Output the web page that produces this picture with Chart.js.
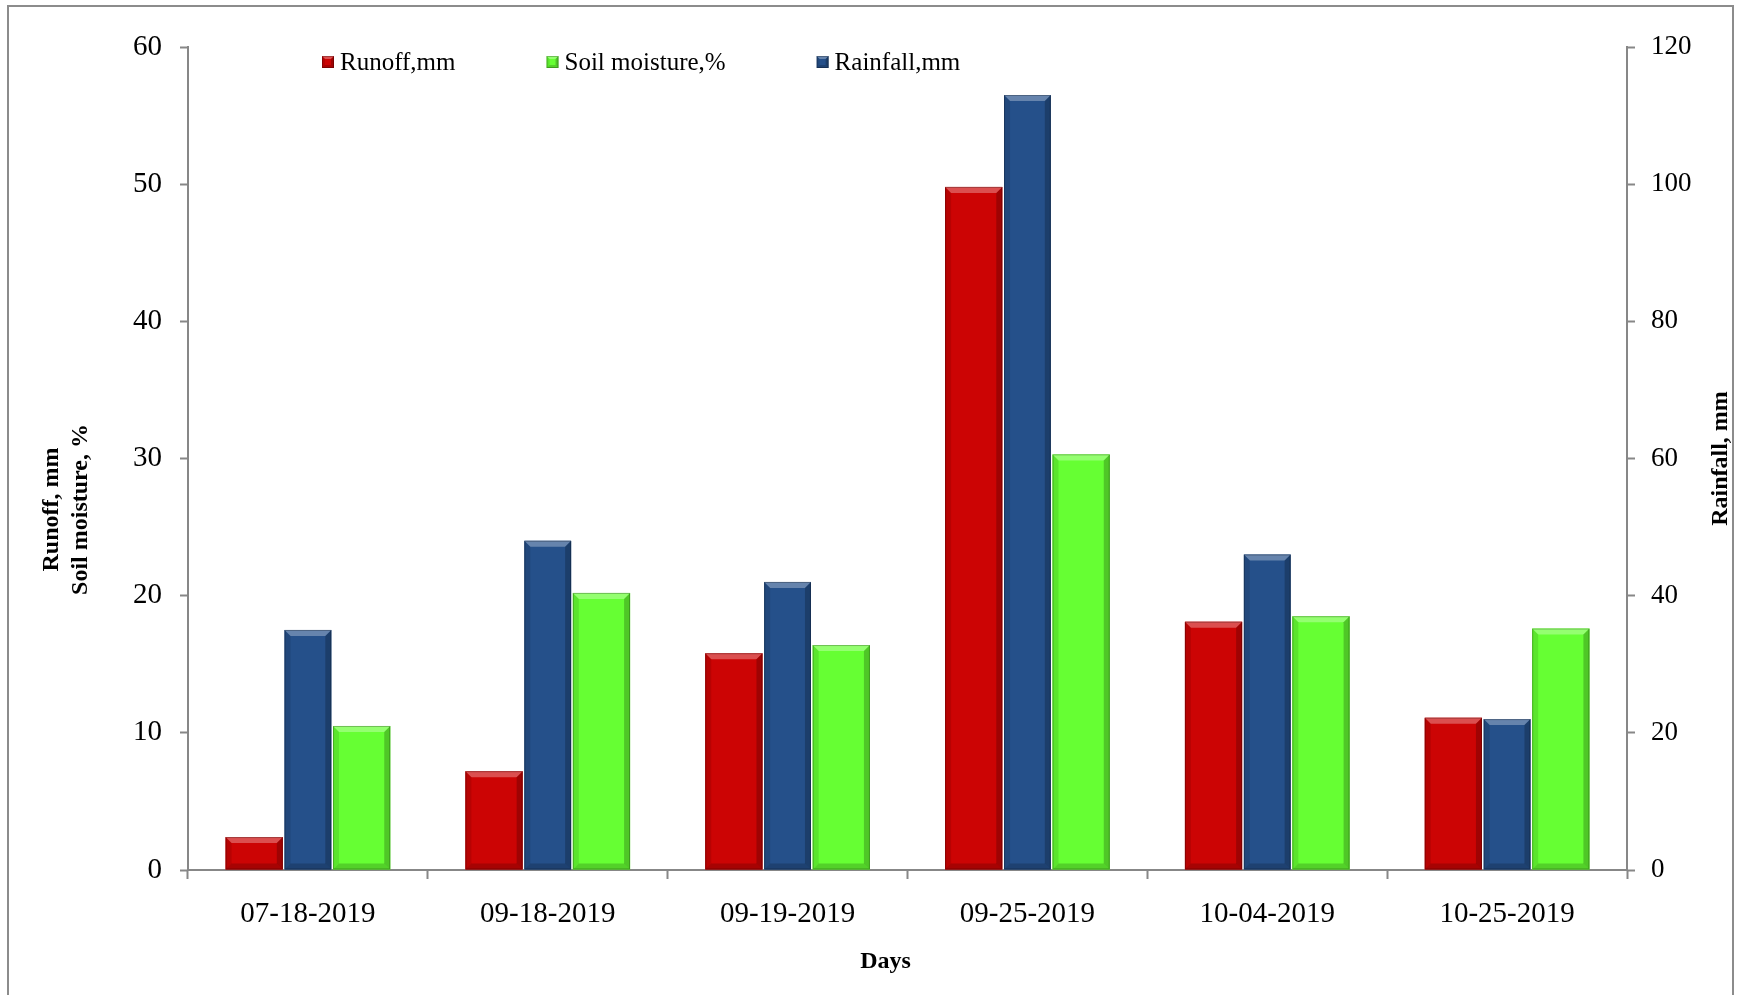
<!DOCTYPE html>
<html>
<head>
<meta charset="utf-8">
<script src="https://cdn.jsdelivr.net/npm/chart.js@4.4.0/dist/chart.umd.min.js"></script>
<style>
  html, body { margin: 0; padding: 0; background: #ffffff; }
  #wrap { width: 1741px; height: 995px; position: relative; }
</style>
</head>
<body>
<div id="wrap"><canvas id="c"></canvas></div>
<script>
const categories = ['07-18-2019', '09-18-2019', '09-19-2019', '09-25-2019', '10-04-2019', '10-25-2019'];
const runoff = [2.4, 7.2, 15.8, 49.8, 18.1, 11.1];
const rainfall = [35, 48, 42, 113, 46, 22];
const soilMoisture = [10.5, 20.2, 16.4, 30.3, 18.5, 17.6];
const leftTicks = [0, 10, 20, 30, 40, 50, 60];
const rightTicks = [0, 20, 40, 60, 80, 100, 120];
const leftTitle = ['Runoff, mm', 'Soil moisture, %'];
const rightTitle = 'Rainfall, mm';
const xTitle = 'Days';

const SERIF = "'Times New Roman', 'Liberation Serif', serif";
const AXIS_GRAY = '#878787';
const COLORS = { runoff: '#CC0404', soil: '#66FF33', rain: '#25508A' };

function bevelRect(ctx, left, top, right, bottom, color, b) {
  ctx.save();
  ctx.fillStyle = color;
  ctx.fillRect(left, top, right - left, bottom - top);
  const h = bottom - top;
  const bb = Math.min(b, h / 2, (right - left) / 2);
  ctx.fillStyle = 'rgba(255,255,255,0.30)';
  ctx.beginPath();
  ctx.moveTo(left, top); ctx.lineTo(right, top); ctx.lineTo(right - bb, top + bb); ctx.lineTo(left + bb, top + bb); ctx.closePath(); ctx.fill();
  ctx.fillStyle = 'rgba(0,0,0,0.22)';
  ctx.beginPath();
  ctx.moveTo(right, top); ctx.lineTo(right, bottom); ctx.lineTo(right - bb, bottom - bb); ctx.lineTo(right - bb, top + bb); ctx.closePath(); ctx.fill();
  ctx.fillStyle = 'rgba(0,0,0,0.10)';
  ctx.beginPath();
  ctx.moveTo(left, top); ctx.lineTo(left + bb, top + bb); ctx.lineTo(left + bb, bottom - bb); ctx.lineTo(left, bottom); ctx.closePath(); ctx.fill();
  ctx.fillStyle = 'rgba(0,0,0,0.18)';
  ctx.beginPath();
  ctx.moveTo(left, bottom); ctx.lineTo(left + bb, bottom - bb); ctx.lineTo(right - bb, bottom - bb); ctx.lineTo(right, bottom); ctx.closePath(); ctx.fill();
  ctx.strokeStyle = 'rgba(0,0,0,0.25)';
  ctx.lineWidth = 1;
  ctx.strokeRect(left + 0.5, top + 0.5, right - left - 1, bottom - top - 1);
  ctx.restore();
}

const framePlugin = {
  id: 'frame',
  beforeDraw(chart) {
    const ctx = chart.ctx;
    ctx.save();
    ctx.fillStyle = '#ffffff';
    ctx.fillRect(0, 0, chart.width, chart.height);
    ctx.strokeStyle = '#8c8c8c';
    ctx.lineWidth = 2;
    ctx.strokeRect(8, 6, chart.width - 16, chart.height + 20);
    ctx.restore();
  }
};

const bevelPlugin = {
  id: 'bevel',
  afterDatasetsDraw(chart) {
    const ctx = chart.ctx;
    chart.data.datasets.forEach((ds, i) => {
      const meta = chart.getDatasetMeta(i);
      meta.data.forEach(el => {
        const p = el.getProps(['x', 'y', 'base', 'width'], true);
        const left = p.x - p.width / 2, right = p.x + p.width / 2;
        bevelRect(ctx, left, Math.min(p.y, p.base), right, Math.max(p.y, p.base), ds.backgroundColor, 6);
      });
    });
  }
};

const legendOrder = [0, 2, 1];
const customLegend = {
  id: 'customLegend',
  afterDraw(chart) {
    const ctx = chart.ctx;
    const area = chart.chartArea;
    ctx.save();
    ctx.font = '25px ' + SERIF;
    ctx.textBaseline = 'middle';
    ctx.textAlign = 'left';
    let x = area.left + 134;
    const y = area.top + 15;
    legendOrder.forEach(i => {
      const ds = chart.data.datasets[i];
      bevelRect(ctx, x, y - 6, x + 12, y + 6, ds.backgroundColor, 3);
      ctx.fillStyle = '#000000';
      ctx.fillText(ds.label, x + 18, y + 1);
      x += 18 + ctx.measureText(ds.label).width + 91;
    });
    // axis titles
    ctx.font = 'bold 24px ' + SERIF;
    ctx.textAlign = 'center';
    const cyLeft = (area.top + area.bottom) / 2 + 51;
    leftTitle.forEach((t, k) => {
      ctx.save();
      ctx.translate(52 + k * 29, cyLeft);
      ctx.rotate(-Math.PI / 2);
      ctx.fillText(t, 0, 0);
      ctx.restore();
    });
    ctx.save();
    ctx.translate(1721, (area.top + area.bottom) / 2);
    ctx.rotate(-Math.PI / 2);
    ctx.fillText(rightTitle, 0, 0);
    ctx.restore();
    ctx.fillText(xTitle, (area.left + area.right) / 2 - 22, area.bottom + 92);
    ctx.restore();
  }
};

new Chart(document.getElementById('c'), {
  type: 'bar',
  data: {
    labels: categories,
    datasets: [
      { label: 'Runoff,mm', data: runoff, yAxisID: 'y', backgroundColor: COLORS.runoff,
        barPercentage: 1.065, categoryPercentage: 0.672, borderWidth: 0 },
      { label: 'Rainfall,mm', data: rainfall, yAxisID: 'y1', backgroundColor: COLORS.rain,
        barPercentage: 0.87, categoryPercentage: 0.672, borderWidth: 0 },
      { label: 'Soil moisture,%', data: soilMoisture, yAxisID: 'y', backgroundColor: COLORS.soil,
        barPercentage: 1.065, categoryPercentage: 0.672, borderWidth: 0 }
    ]
  },
  options: {
    responsive: true,
    maintainAspectRatio: false,
    animation: false,
    devicePixelRatio: 1,
    layout: { padding: { top: 47, left: 0, right: 0, bottom: 0 } },
    plugins: {
      legend: { display: false },
      tooltip: { enabled: false }
    },
    scales: {
      x: {
        type: 'category',
        grid: { display: true, drawOnChartArea: false, offset: true, color: AXIS_GRAY, tickColor: AXIS_GRAY, tickLength: 9, tickWidth: 2 },
        border: { display: true, color: AXIS_GRAY, width: 2 },
        ticks: { color: '#000000', font: { family: SERIF, size: 29 }, padding: 18, maxRotation: 0, autoSkip: false },
        afterFit(scale) { scale.height = 125; }
      },
      y: {
        position: 'left',
        min: 0, max: 60,
        afterBuildTicks(scale) { scale.ticks = leftTicks.map(v => ({ value: v })); },
        grid: { display: true, drawOnChartArea: false, color: AXIS_GRAY, tickColor: AXIS_GRAY, tickLength: 8, tickWidth: 2 },
        border: { display: true, color: AXIS_GRAY, width: 2 },
        ticks: { color: '#000000', font: { family: SERIF, size: 29 }, padding: 18 },
        afterFit(scale) { scale.width = 188; }
      },
      y1: {
        position: 'right',
        min: 0, max: 120,
        afterBuildTicks(scale) { scale.ticks = rightTicks.map(v => ({ value: v })); },
        grid: { display: true, drawOnChartArea: false, color: AXIS_GRAY, tickColor: AXIS_GRAY, tickLength: 8, tickWidth: 2 },
        border: { display: true, color: AXIS_GRAY, width: 2 },
        ticks: { color: '#000000', font: { family: SERIF, size: 27 }, padding: 16 },
        afterFit(scale) { scale.width = 114; }
      }
    }
  },
  plugins: [framePlugin, bevelPlugin, customLegend]
});
</script>
</body>
</html>
